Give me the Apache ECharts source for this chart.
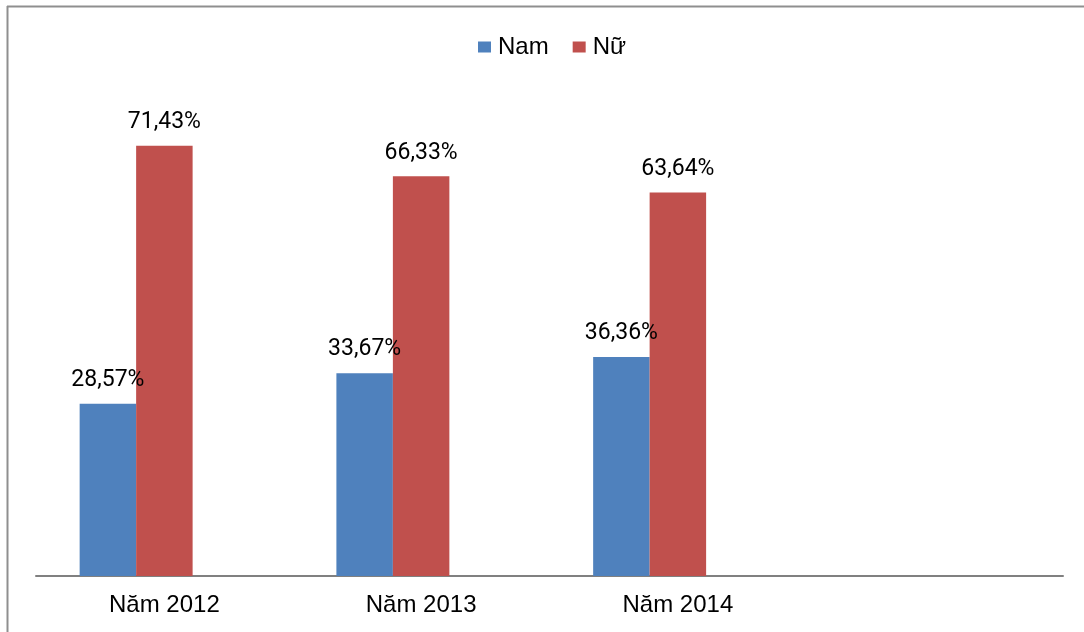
<!DOCTYPE html>
<html>
<head>
<meta charset="utf-8">
<script src="https://cdn.jsdelivr.net/npm/echarts@6/dist/echarts.min.js"></script>
<style>
html,body{margin:0;padding:0;background:#fff;}
#chart{width:1084px;height:632px;}
</style>
</head>
<body>
<div id="chart"></div>
<script>
const categories = ['Năm 2012', 'Năm 2013', 'Năm 2014', ''];
const seriesNames = ['Nam', 'Nữ'];
const namValues = [28.57, 33.67, 36.36, null];
const nuValues = [71.43, 66.33, 63.64, null];
const emptyValues = [null, null, null, null];

const chart = echarts.init(document.getElementById('chart'));
const labelOpt = {
  show: true,
  position: 'top',
  distance: 12,
  fontFamily: 'Roboto, "Liberation Sans", sans-serif',
  fontSize: 23,
  color: '#000',
  formatter: p => p.value == null ? '' : p.value.toFixed(2).replace('.', ',') + '%'
};
chart.setOption({
  animation: false,
  backgroundColor: '#fff',
  legend: {
    left: 473,
    top: 30,
    icon: 'rect',
    itemWidth: 13,
    itemHeight: 11,
    itemGap: 24,
    textStyle: { fontFamily: '"Liberation Sans", Arial, sans-serif', fontSize: 24, color: '#000', padding: [0,0,0,2] },
    data: seriesNames
  },
  grid: { left: 36, right: 21, top: 94, bottom: 56 },
  xAxis: {
    type: 'category',
    data: categories,
    axisLine: { lineStyle: { color: '#808080', width: 2 } },
    axisTick: { show: false },
    axisLabel: { margin: 17, fontFamily: '"Liberation Sans", Arial, sans-serif', fontSize: 24, color: '#000' }
  },
  yAxis: {
    type: 'value', min: 0, max: 80, show: false,
    splitLine: { show: false }
  },
  series: [
    { name: seriesNames[0], type: 'bar', data: namValues, barGap: '0%', barCategoryGap: '34%',
      itemStyle: { color: '#4F81BD' }, label: labelOpt },
    { name: seriesNames[1], type: 'bar', data: nuValues, barGap: '0%', barCategoryGap: '34%',
      itemStyle: { color: '#C0504D' }, label: labelOpt },
    { name: 'blank', type: 'bar', data: emptyValues, barGap: '0%', barCategoryGap: '34%',
      itemStyle: { color: 'transparent' } }
  ],
  graphic: [
    { type: 'line', shape: { x1: 7, y1: 6.5, x2: 1084, y2: 6.5 }, style: { stroke: '#8f8f8f', lineWidth: 2 } },
    { type: 'line', shape: { x1: 7.5, y1: 6, x2: 7.5, y2: 632 }, style: { stroke: '#8f8f8f', lineWidth: 2 } }
  ]
});
</script>
</body>
</html>
